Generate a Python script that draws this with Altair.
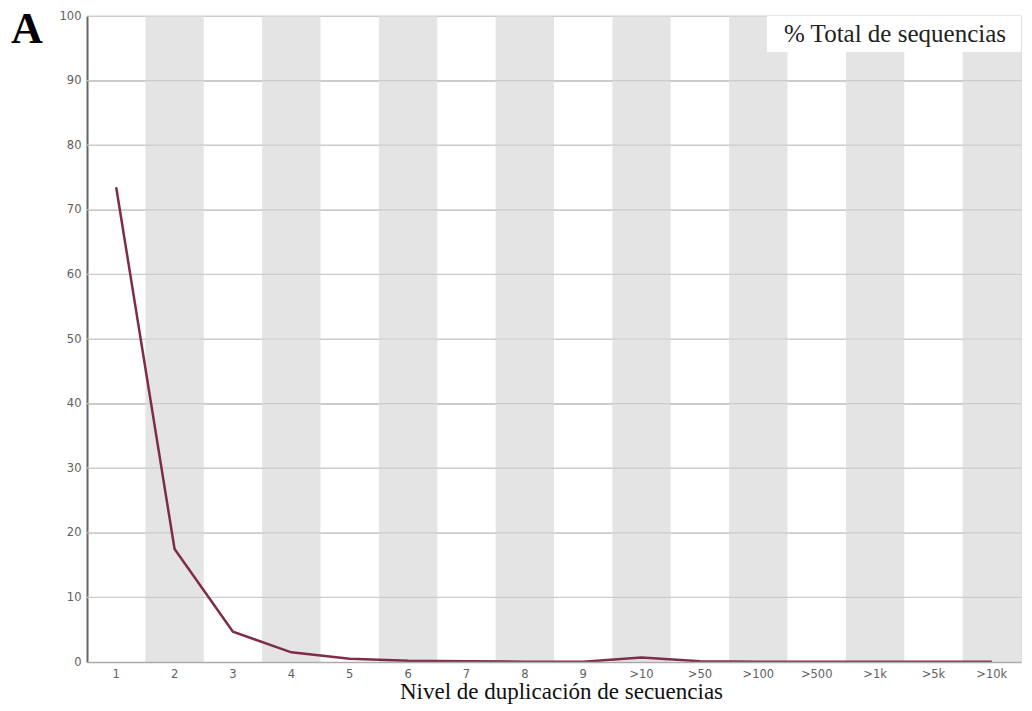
import altair as alt
import pandas as pd

categories = ["1", "2", "3", "4", "5", "6", "7", "8", "9", ">10", ">50", ">100", ">500", ">1k", ">5k", ">10k"]
total_pct = [73.5, 17.5, 4.7, 1.5, 0.5, 0.2, 0.1, 0.05, 0.05, 0.7, 0.1, 0.05, 0.05, 0.05, 0.05, 0.05]
band_shade = [i % 2 for i in range(len(categories))]

df = pd.DataFrame({"cat": categories, "pct": total_pct, "shade": band_shade})
df["top"] = 100
df["bottom"] = 0

W, H = 934, 646
xscale = alt.Scale(domain=categories, paddingInner=0, paddingOuter=0)
yscale = alt.Scale(domain=[0, 100], nice=False)

xaxis = alt.Axis(labelAngle=0, labelColor="#606060", labelFont="DejaVu Sans", labelFontSize=11.5,
                 ticks=False, domainColor="#aaaaaa", domainWidth=1.5, labelPadding=6,
                 title="Nivel de duplicación de secuencias", titleFont="Liberation Serif",
                 titleFontSize=23, titleFontWeight="normal", titleColor="#111111", titlePadding=1,
                 titleX=474, grid=False)
yaxis = alt.Axis(values=list(range(0, 101, 10)), labelColor="#606060", labelFont="DejaVu Sans",
                 labelFontSize=11.5, ticks=False, domainColor="#666666", domainWidth=2,
                 labelPadding=6, title=None, grid=True, gridColor="#cccccc", gridWidth=1.2)

bands = alt.Chart(df).transform_filter("datum.shade == 1").mark_rect(color="#e4e4e4").encode(
    x=alt.X("cat:N", scale=xscale, sort=categories, axis=xaxis),
    y=alt.Y("top:Q", scale=yscale, axis=yaxis),
    y2="bottom:Q",
)

grid = alt.Chart(pd.DataFrame({"g": list(range(10, 101, 10))})).mark_rule(color="#cccccc", strokeWidth=1.2).encode(
    y=alt.Y("g:Q", scale=yscale)
)

legend_box = alt.Chart(pd.DataFrame({"a": [0]})).mark_rect(color="white").encode(
    x=alt.value(680), x2=alt.value(934), y=alt.value(0), y2=alt.value(36)
)
legend_text = alt.Chart(pd.DataFrame({"a": [0]})).mark_text(
    text="% Total de sequencias", font="Liberation Serif", fontSize=25, color="#222222",
    align="center", baseline="middle").encode(x=alt.value(808), y=alt.value(18))

line = alt.Chart(df).mark_line(color="#7e2c4c", strokeWidth=2.5).encode(
    x=alt.X("cat:N", scale=xscale, sort=categories),
    y=alt.Y("pct:Q", scale=yscale),
)

panel_label = alt.Chart(pd.DataFrame({"a": [0]})).mark_text(
    text="A", font="Liberation Serif", fontSize=44, fontWeight="bold", color="#000000",
    align="center", baseline="alphabetic").encode(x=alt.value(-60), y=alt.value(27))

chart = alt.layer(bands, grid, legend_box, legend_text, line, panel_label).properties(
    width=W, height=H,
    autosize=alt.AutoSizeParams(type="none"),
    padding={"left": 87, "top": 16, "right": 11, "bottom": 49},
).configure_view(stroke=None).configure(background="white")

chart.save("out.html", embed_options={"renderer": "svg", "actions": False})
